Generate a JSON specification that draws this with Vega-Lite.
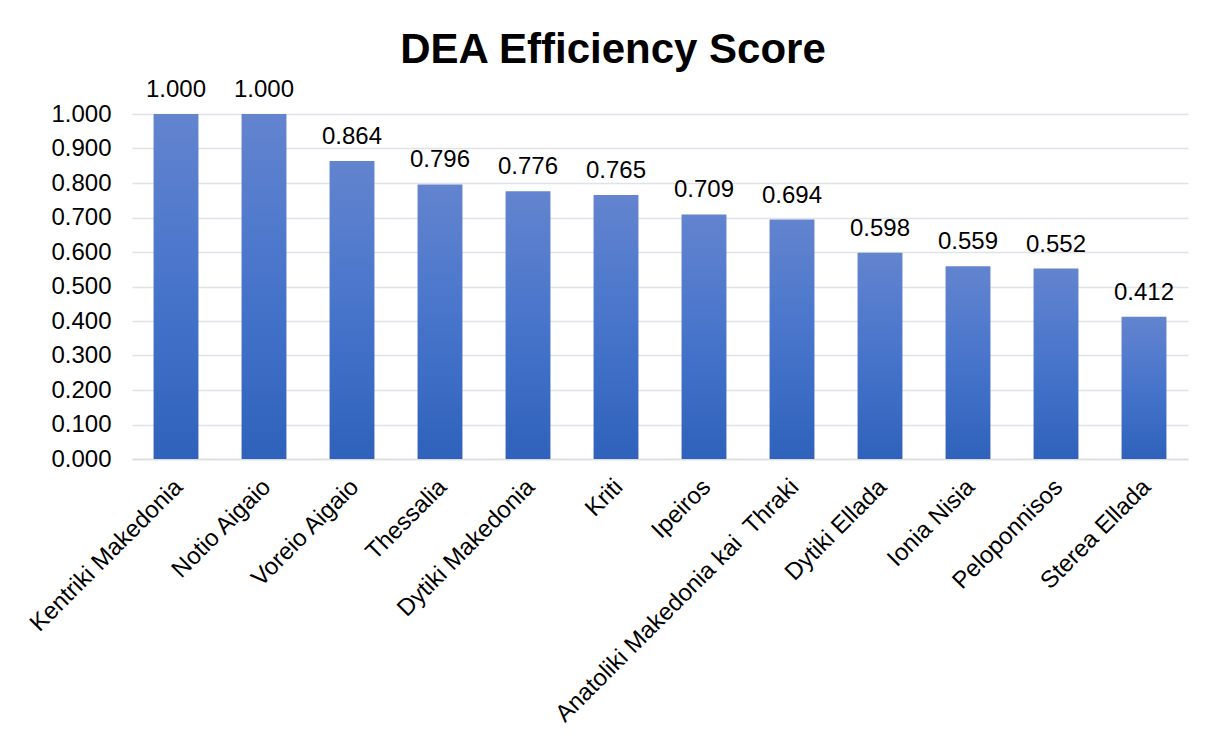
{
  "$schema": "https://vega.github.io/schema/vega-lite/v6.json",
  "autosize": {"type": "none"},
  "width": 1056,
  "height": 345,
  "padding": {"left": 132, "top": 114, "right": 25, "bottom": 277},
  "background": "white",
  "config": {
    "font": "Liberation Sans",
    "view": {"stroke": null}
  },
  "title": {
    "text": "DEA Efficiency Score",
    "font": "Liberation Sans",
    "fontSize": 42,
    "fontWeight": "bold",
    "color": "#000000",
    "anchor": "middle",
    "frame": "group",
    "baseline": "alphabetic",
    "dx": -47,
    "offset": -27
  },
  "data": {
    "values": [
      {"region": "Kentriki Makedonia", "score": 1.000},
      {"region": "Notio Aigaio", "score": 1.000},
      {"region": "Voreio Aigaio", "score": 0.864},
      {"region": "Thessalia", "score": 0.796},
      {"region": "Dytiki Makedonia", "score": 0.776},
      {"region": "Kriti", "score": 0.765},
      {"region": "Ipeiros", "score": 0.709},
      {"region": "Anatoliki Makedonia kai \u00a0Thraki", "score": 0.694},
      {"region": "Dytiki Ellada", "score": 0.598},
      {"region": "Ionia Nisia", "score": 0.559},
      {"region": "Peloponnisos", "score": 0.552},
      {"region": "Sterea Ellada", "score": 0.412}
    ]
  },
  "encoding": {
    "x": {
      "field": "region",
      "type": "nominal",
      "sort": null,
      "scale": {"paddingInner": 0.49, "paddingOuter": 0.245},
      "axis": {
        "title": null,
        "labelAngle": -45,
        "labelAlign": "right",
        "labelBaseline": "middle",
        "labelFontSize": 24,
        "labelColor": "#000000",
        "labelPadding": 24,
        "labelOffset": 3,
        "labelLimit": 500,
        "ticks": false,
        "domain": true,
        "domainColor": "#d9dce3",
        "domainWidth": 1.5,
        "grid": false
      }
    },
    "y": {
      "field": "score",
      "type": "quantitative",
      "scale": {"domain": [0, 1]},
      "axis": {
        "title": null,
        "values": [0, 0.1, 0.2, 0.3, 0.4, 0.5, 0.6, 0.7, 0.8, 0.9, 1.0],
        "format": ".3f",
        "labelFontSize": 24,
        "labelColor": "#000000",
        "labelPadding": 21,
        "ticks": false,
        "domain": false,
        "grid": true,
        "gridColor": "#dfe2e8",
        "gridWidth": 1.5
      }
    }
  },
  "layer": [
    {
      "mark": {
        "type": "bar",
        "color": {
          "gradient": "linear",
          "x1": 0, "y1": 0, "x2": 0, "y2": 1,
          "stops": [
            {"offset": 0, "color": "#6384cf"},
            {"offset": 0.5, "color": "#4774cb"},
            {"offset": 1, "color": "#2f62bb"}
          ]
        }
      }
    },
    {
      "mark": {
        "type": "text",
        "baseline": "alphabetic",
        "dy": -17,
        "fontSize": 24,
        "color": "#000000"
      },
      "encoding": {
        "text": {"field": "score", "type": "quantitative", "format": ".3f"}
      }
    }
  ]
}
